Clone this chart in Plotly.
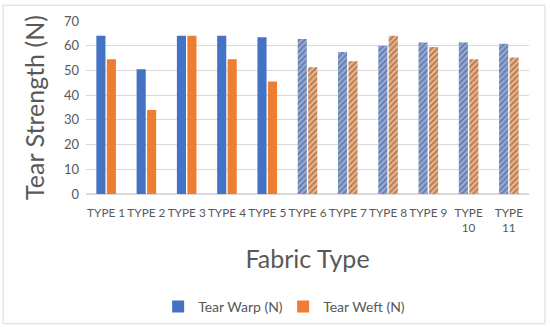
import plotly.graph_objects as go

categories = ["TYPE 1", "TYPE 2", "TYPE 3", "TYPE 4", "TYPE 5", "TYPE 6",
              "TYPE 7", "TYPE 8", "TYPE 9", "TYPE<br>10", "TYPE<br>11"]
tear_warp = [64.0, 50.5, 64.0, 64.0, 63.4, 62.7, 57.5, 60.0, 61.3, 61.3, 60.8]
tear_weft = [54.5, 34.0, 64.0, 54.5, 45.5, 51.3, 53.7, 64.0, 59.5, 54.5, 55.2]
hatched = [False] * 5 + [True] * 6

BLUE, BLUE_LT = "#4472C4", "#8eaae2"
ORANGE, ORANGE_LT = "#ED7D31", "#f6b07e"

def series(name, vals, dark, light):
    return go.Bar(
        name=name, x=categories, y=vals,
        marker=dict(
            color=[light if h else dark for h in hatched],
            line=dict(width=0),
            pattern=dict(
                shape=["/" if h else "" for h in hatched],
                fgcolor=dark, fillmode="overlay", size=4, solidity=0.4,
            ),
        ),
    )

fig = go.Figure([
    series("Tear Warp (N)", tear_warp, BLUE, BLUE_LT),
    series("Tear Weft (N)", tear_weft, ORANGE, ORANGE_LT),
])

grey = "#595959"
FONT = "Lato, Open Sans, sans-serif"
fig.update_layout(
    width=550, height=335,
    margin=dict(l=86, r=21, t=21, b=138),
    paper_bgcolor="white", plot_bgcolor="white",
    font=dict(family=FONT, color=grey, size=12),
    barmode="group", bargap=0.48, bargroupgap=0.13,
    showlegend=True,
    legend=dict(orientation="h", x=0.445, xanchor="center", y=-0.56, yanchor="top",
                font=dict(size=14, color=grey), traceorder="normal",
                itemwidth=30, entrywidth=80, entrywidthmode="pixels"),
    shapes=[dict(type="rect", xref="paper", yref="paper",
                 x0=-0.187, x1=1.036, y0=-0.75, y1=1.091,
                 line=dict(color="#d9d9d9", width=1), layer="below")],
)
fig.update_xaxes(
    title=dict(text="Fabric Type", font=dict(size=25, color=grey), standoff=16),
    tickfont=dict(size=11.8, color=grey), showgrid=False, showline=False,
    ticks="", automargin=False, tickangle=0, ticklabelstandoff=10,
)
fig.update_yaxes(
    title=dict(text="Tear Strength (N)", font=dict(size=25, color=grey), standoff=12),
    range=[0, 70], dtick=10, tickfont=dict(size=13, color=grey),
    gridcolor="#d9d9d9", gridwidth=1, zeroline=True, zerolinecolor="#d9d9d9",
    showline=False, ticks="", automargin=False, ticklabelstandoff=6,
)

fig.write_html("out.html", config={"displayModeBar": False},
               post_script="document.body.style.margin='0';document.body.style.overflow='hidden';")
